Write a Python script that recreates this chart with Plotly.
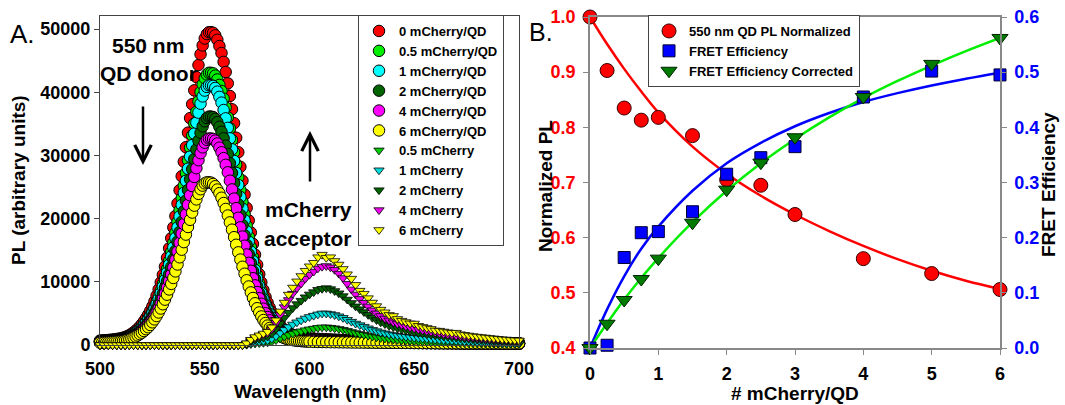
import plotly.graph_objects as go

# ---------------- Panel A data ----------------
WL_QD = list(range(500, 601)) + list(range(602, 701, 2))
WL_MC = list(range(500, 701, 2))

QD_0 = [700, 720, 740, 760, 790, 820, 860, 900, 950, 1000,
        1060, 1150, 1250, 1400, 1550, 1750, 2000, 2250, 2550, 2900,
        3300, 3750, 4250, 4800, 5400, 6100, 6900, 7800, 8800, 9900,
        11100, 12400, 13800, 15300, 16900, 18600, 20400, 22400, 24500, 26700,
        29000, 31300, 33600, 35900, 38100, 40300, 42400, 44300, 46000, 47400,
        48500, 49200, 49500, 49500, 49400, 49000, 48300, 47300, 46200, 44800,
        43200, 41400, 39400, 37300, 35100, 32800, 30500, 28200, 26000, 23800,
        21700, 19700, 17800, 16000, 14300, 12700, 11200, 9900, 8700, 7600,
        6700, 5900, 5200, 4600, 4000, 3500, 3100, 2700, 2400, 2100,
        1900, 1750, 1600, 1500, 1400, 1300, 1250, 1200, 1150, 1100,
        1050,
        1020, 990, 960, 930, 900, 870, 840, 810, 780, 750,
        720, 700, 680, 660, 640, 620, 600, 580, 560, 545,
        530, 515, 500, 485, 470, 455, 440, 430, 420, 410,
        400, 390, 380, 370, 360, 350, 340, 335, 330, 325,
        320, 315, 310, 305, 300, 295, 290, 285, 280, 275]

QD_05 = [610, 630, 640, 660, 690, 710, 750, 780, 830, 870,
         920, 1000, 1090, 1220, 1350, 1520, 1740, 1960, 2220, 2520,
         2870, 3260, 3700, 4180, 4700, 5310, 6000, 6790, 7660, 8610,
         9660, 10790, 12010, 13310, 14700, 16180, 17750, 19490, 21320, 23230,
         25230, 27230, 29230, 31230, 33150, 35060, 36890, 38540, 40020, 41240,
         42200, 42800, 43070, 43070, 42980, 42630, 42020, 41150, 40190, 38980,
         37580, 36020, 34280, 32450, 30540, 28540, 26540, 24530, 22620, 20710,
         18880, 17140, 15490, 13920, 12440, 11050, 9740, 8610, 7570, 6610,
         5830, 5130, 4520, 4000, 3480, 3050, 2700, 2350, 2090, 1830,
         1650, 1520, 1390, 1310, 1220, 1130, 1090, 1040, 1000, 960,
         910,
         890, 860, 840, 810, 780, 760, 730, 700, 680, 650,
         630, 610, 590, 570, 560, 540, 520, 500, 490, 470,
         460, 450, 435, 420, 410, 400, 380, 370, 365, 355,
         350, 340, 330, 320, 315, 305, 295, 290, 285, 285,
         280, 275, 270, 265, 260, 255, 250, 250, 245, 240]

QD_1 = [580, 600, 610, 630, 660, 680, 710, 750, 790, 830,
        880, 950, 1040, 1160, 1290, 1450, 1660, 1870, 2120, 2410,
        2740, 3110, 3530, 3980, 4480, 5060, 5730, 6470, 7300, 8220,
        9210, 10290, 11450, 12700, 14030, 15440, 16930, 18590, 20340, 22160,
        24070, 25980, 27890, 29800, 31620, 33450, 35190, 36770, 38180, 39340,
        40260, 40840, 41090, 41090, 41000, 40670, 40090, 39260, 38350, 37180,
        35860, 34360, 32700, 30960, 29130, 27220, 25320, 23410, 21580, 19750,
        18010, 16350, 14770, 13280, 11870, 10540, 9300, 8220, 7220, 6310,
        5560, 4900, 4320, 3820, 3320, 2910, 2570, 2240, 1990, 1740,
        1580, 1450, 1330, 1250, 1160, 1080, 1040, 1000, 950, 910,
        870,
        850, 820, 800, 770, 750, 720, 700, 670, 650, 620,
        600, 580, 560, 550, 530, 510, 500, 480, 460, 450,
        440, 430, 415, 400, 390, 380, 365, 355, 350, 340,
        330, 325, 315, 305, 300, 290, 280, 280, 275, 270,
        265, 260, 255, 255, 250, 245, 240, 235, 230, 230]

QD_2 = [510, 530, 540, 550, 580, 600, 630, 660, 690, 730,
        770, 840, 910, 1020, 1130, 1280, 1460, 1640, 1860, 2120,
        2410, 2740, 3100, 3500, 3940, 4450, 5040, 5690, 6420, 7230,
        8100, 9050, 10070, 11170, 12340, 13580, 14890, 16350, 17890, 19490,
        21170, 22850, 24530, 26210, 27810, 29420, 30950, 32340, 33580, 34600,
        35410, 35920, 36140, 36140, 36060, 35770, 35260, 34530, 33730, 32700,
        31540, 30220, 28760, 27230, 25620, 23940, 22270, 20590, 18980, 17370,
        15840, 14380, 12990, 11680, 10440, 9270, 8180, 7230, 6350, 5550,
        4890, 4310, 3800, 3360, 2920, 2560, 2260, 1970, 1750, 1530,
        1390, 1280, 1170, 1100, 1020, 950, 910, 880, 840, 800,
        770,
        740, 720, 700, 680, 660, 640, 610, 590, 570, 550,
        530, 510, 500, 480, 470, 450, 440, 420, 410, 400,
        390, 380, 365, 355, 345, 330, 320, 315, 305, 300,
        290, 285, 275, 270, 265, 255, 250, 245, 240, 235,
        235, 230, 225, 225, 220, 215, 210, 210, 205, 200]

QD_4 = [460, 480, 490, 500, 520, 540, 570, 590, 630, 660,
        700, 760, 830, 920, 1020, 1160, 1320, 1490, 1680, 1910,
        2180, 2480, 2810, 3170, 3560, 4030, 4550, 5150, 5810, 6530,
        7330, 8180, 9110, 10100, 11150, 12280, 13460, 14780, 16170, 17620,
        19140, 20660, 22180, 23690, 25150, 26600, 27980, 29240, 30360, 31280,
        32010, 32470, 32670, 32670, 32600, 32340, 31880, 31220, 30490, 29570,
        28510, 27320, 26000, 24620, 23170, 21650, 20130, 18610, 17160, 15710,
        14320, 13000, 11750, 10560, 9440, 8380, 7390, 6530, 5740, 5020,
        4420, 3890, 3430, 3040, 2640, 2310, 2050, 1780, 1580, 1390,
        1250, 1160, 1060, 990, 920, 860, 830, 790, 760, 730,
        690,
        670, 650, 630, 610, 590, 570, 550, 530, 510, 500,
        480, 460, 450, 440, 420, 410, 400, 380, 370, 360,
        350, 340, 330, 320, 310, 300, 290, 285, 280, 270,
        265, 260, 250, 245, 240, 230, 225, 220, 215, 215,
        210, 210, 205, 200, 200, 195, 190, 190, 185, 180]

QD_6 = [375, 385, 400, 410, 430, 450, 470, 490, 520, 550,
        600, 650, 730, 810, 910, 1040, 1170, 1330, 1510, 1720,
        1950, 2210, 2500, 2810, 3170, 3590, 4060, 4580, 5150, 5770,
        6450, 7180, 7960, 8790, 9670, 10610, 11650, 12740, 13880, 15080,
        16280, 17470, 18670, 19810, 20960, 22050, 23040, 23920, 24650, 25220,
        25580, 25740, 25740, 25690, 25480, 25120, 24600, 24020, 23300, 22460,
        21530, 20490, 19400, 18250, 17060, 15860, 14660, 13520, 12380, 11280,
        10240, 9260, 8320, 7440, 6600, 5820, 5150, 4520, 3950, 3480,
        3070, 2700, 2390, 2080, 1820, 1610, 1400, 1250, 1090, 990,
        910, 830, 780, 730, 680, 650, 620, 600, 570, 550,
        530,
        490, 480, 470, 460, 450, 440, 430, 420, 410, 400,
        395, 390, 385, 380, 375, 370, 365, 360, 355, 350,
        345, 340, 335, 330, 325, 320, 315, 310, 305, 300,
        298, 296, 294, 292, 290, 288, 286, 284, 282, 280,
        278, 276, 274, 272, 270, 268, 266, 264, 262, 260]

MC_05 = [0, 0, 0, 0, 0, 0, 0, 0, 0, 0, 0, 0, 0, 0, 0, 0, 0,
         0, 0, 0, 0, 0, 0, 0, 0, 0, 0, 0, 0, 0, 0, 0, 0, 0,
         0, 60, 170, 250, 310, 360, 420, 560, 780, 1060,
         1340, 1600, 1820, 2020, 2180, 2350, 2490, 2600, 2720, 2800,
         2800, 2740, 2660, 2550, 2410, 2240, 2070, 1900, 1760, 1620,
         1480, 1340, 1230, 1120, 1040, 950, 880, 830, 770, 730,
         690, 640, 610, 570, 540, 510, 480, 450, 430, 410,
         380, 360, 340, 320, 300, 280, 270, 250, 240, 220,
         210, 200, 190, 180, 170, 160, 150]

MC_1 = [0, 0, 0, 0, 0, 0, 0, 0, 0, 0, 0, 0, 0, 0, 0, 0, 0,
        0, 0, 0, 0, 0, 0, 0, 0, 0, 0, 0, 0, 0, 0, 0, 0, 0,
        0, 100, 300, 450, 550, 650, 750, 1000, 1400, 1900,
        2400, 2850, 3250, 3600, 3900, 4200, 4450, 4650, 4850, 5000,
        5000, 4900, 4750, 4550, 4300, 4000, 3700, 3400, 3150, 2900,
        2650, 2400, 2200, 2000, 1850, 1700, 1580, 1480, 1380, 1300,
        1230, 1150, 1090, 1030, 970, 910, 860, 810, 770, 730,
        690, 650, 610, 580, 540, 510, 480, 450, 430, 400,
        380, 350, 330, 310, 290, 280, 260]

MC_2 = [0, 0, 0, 0, 0, 0, 0, 0, 0, 0, 0, 0, 0, 0, 0, 0, 0,
        0, 0, 0, 0, 0, 0, 0, 0, 0, 0, 0, 0, 0, 0, 0, 0, 0,
        0, 180, 540, 810, 990, 1170, 1350, 1800, 2520, 3420,
        4320, 5130, 5850, 6480, 7020, 7560, 8010, 8370, 8730, 8900,
        9000, 8850, 8550, 8190, 7740, 7200, 6660, 6120, 5670, 5220,
        4770, 4320, 3960, 3600, 3330, 3060, 2840, 2660, 2480, 2340,
        2210, 2070, 1950, 1850, 1740, 1640, 1550, 1460, 1380, 1310,
        1240, 1170, 1100, 1040, 970, 910, 860, 810, 770, 720,
        680, 630, 590, 560, 520, 500, 470]

MC_4 = [0, 0, 0, 0, 0, 0, 0, 0, 0, 0, 0, 0, 0, 0, 0, 0, 0,
        0, 0, 0, 0, 0, 0, 0, 0, 0, 0, 0, 0, 0, 0, 0, 0, 0,
        0, 250, 750, 1130, 1380, 1630, 1880, 2500, 3500, 4750,
        6000, 7130, 8130, 9000, 9750, 10500, 11130, 11630, 12130, 12400,
        12500, 12300, 11900, 11300, 10600, 9700, 8800, 8000, 7300, 6700,
        6100, 5500, 5000, 4600, 4200, 3900, 3600, 3350, 3150, 2950,
        2780, 2620, 2470, 2330, 2200, 2080, 1960, 1850, 1750, 1650,
        1560, 1470, 1390, 1310, 1240, 1170, 1100, 1040, 980, 920,
        870, 820, 780, 740, 700, 660, 630]

MC_6 = [0, 0, 0, 0, 0, 0, 0, 0, 0, 0, 0, 0, 0, 0, 0, 0, 0,
        0, 0, 0, 0, 0, 0, 0, 0, 0, 0, 0, 0, 0, 0, 0, 0, 0,
        0, 280, 840, 1260, 1540, 1820, 2100, 2800, 3920, 5320,
        6720, 7980, 9100, 10080, 10920, 11760, 12460, 13020, 13900, 14300,
        13800, 13900, 13300, 12740, 12040, 11200, 10500, 9520, 8600, 8120,
        7420, 6720, 6160, 5600, 5180, 4760, 4600, 4130, 3850, 3640,
        3430, 3400, 3040, 2870, 2700, 2550, 2300, 2270, 2140, 2030,
        1920, 1950, 1710, 1610, 1510, 1410, 1330, 1260, 1190, 1120,
        1050, 980, 920, 870, 810, 770, 730]

QD_NAMES = ["0 mCherry/QD", "0.5 mCherry/QD", "1 mCherry/QD",
            "2 mCherry/QD", "4 mCherry/QD", "6 mCherry/QD"]
MC_NAMES = ["0.5 mCherry", "1 mCherry", "2 mCherry", "4 mCherry", "6 mCherry"]
A_XTICKS = [500, 550, 600, 650, 700]
A_YTICKS = [0, 10000, 20000, 30000, 40000, 50000]
A_YTICKTEXT = ["0", "10000", "20000", "30000", "40000", "50000"]

# ---------------- Panel B data ----------------
N_RATIO = [0, 0.25, 0.5, 0.75, 1, 1.5, 2, 2.5, 3, 4, 5, 6]
PL_NORM = [1.0, 0.903, 0.835, 0.813, 0.818, 0.785, 0.705, 0.695, 0.642, 0.562, 0.535, 0.506]
FRET_E = [0.0, 0.005, 0.164, 0.209, 0.211, 0.247, 0.315, 0.345, 0.365, 0.455, 0.502, 0.495]
FRET_CORR = [0.0, 0.044, 0.087, 0.125, 0.162, 0.227, 0.287, 0.336, 0.382, 0.455, 0.515, 0.562]

N_FIT = [0, 0.25, 0.5, 0.75, 1, 1.5, 2, 2.5, 3, 3.5, 4, 4.5, 5, 5.5, 6]
PL_FIT = [1.0, 0.951, 0.906, 0.865, 0.827, 0.765, 0.716, 0.676, 0.642, 0.612, 0.585, 0.561, 0.540, 0.522, 0.507]
FRET_FIT = [0.0, 0.07, 0.13, 0.18, 0.22, 0.285, 0.335, 0.372, 0.402, 0.426, 0.446, 0.462, 0.476, 0.488, 0.499]
CORR_FIT = [0.0, 0.045, 0.088, 0.127, 0.163, 0.228, 0.285, 0.335, 0.379, 0.418, 0.453, 0.484, 0.512, 0.538, 0.562]

# ---------------- Styles ----------------
W, H = 1065, 405
FONT = "Arial, 'Liberation Sans', sans-serif"
QD_COLORS = ["#FF0000", "#00EE00", "#00FFFF", "#006400", "#FF00FF", "#FFFF00"]
MC_COLORS = ["#00CC00", "#00DDDD", "#006400", "#EE00EE", "#FFFF00"]


def px(x):
    return x / W


def py(y):
    return 1 - y / H


fig = go.Figure()

qd_series = [QD_0, QD_05, QD_1, QD_2, QD_4, QD_6]
for name, vals, col in zip(QD_NAMES, qd_series, QD_COLORS):
    fig.add_trace(go.Scatter(x=WL_QD, y=vals, mode="lines", xaxis="x", yaxis="y",
                             line=dict(color=col, width=1.3), showlegend=False,
                             hoverinfo="skip", cliponaxis=False))
    fig.add_trace(go.Scatter(x=WL_QD, y=vals, mode="markers", name=name, xaxis="x", yaxis="y",
                             marker=dict(symbol="circle", size=11.5, color=col,
                                         line=dict(color="black", width=1)),
                             legend="legend", cliponaxis=False))

mc_series = [MC_05, MC_1, MC_2, MC_4, MC_6]
for name, vals, col in zip(MC_NAMES, mc_series, MC_COLORS):
    fig.add_trace(go.Scatter(x=WL_MC, y=vals, mode="markers", name=name, xaxis="x", yaxis="y",
                             marker=dict(symbol="triangle-down", size=9, color=col,
                                         line=dict(color="black", width=0.8)),
                             legend="legend", cliponaxis=False))

# Panel B fits
fig.add_trace(go.Scatter(x=N_FIT, y=PL_FIT, mode="lines", xaxis="x2", yaxis="y2",
                         line=dict(color="#FF0000", width=2.5, shape="spline"), showlegend=False))
fig.add_trace(go.Scatter(x=N_FIT, y=FRET_FIT, mode="lines", xaxis="x2", yaxis="y3",
                         line=dict(color="#0000FF", width=2.5, shape="spline"), showlegend=False))
fig.add_trace(go.Scatter(x=N_FIT, y=CORR_FIT, mode="lines", xaxis="x2", yaxis="y3",
                         line=dict(color="#00EE00", width=2.5, shape="spline"), showlegend=False))
# Panel B points
fig.add_trace(go.Scatter(x=N_RATIO, y=PL_NORM, mode="markers", name="550 nm QD PL Normalized",
                         xaxis="x2", yaxis="y2", legend="legend2", cliponaxis=False,
                         marker=dict(symbol="circle", size=14, color="#FF0000",
                                     line=dict(color="#330000", width=1))))
fig.add_trace(go.Scatter(x=N_RATIO, y=FRET_E, mode="markers", name="FRET Efficiency",
                         xaxis="x2", yaxis="y3", legend="legend2", cliponaxis=False,
                         marker=dict(symbol="square", size=12, color="#0000FF",
                                     line=dict(color="#000033", width=1))))
fig.add_trace(go.Scatter(x=N_RATIO, y=FRET_CORR, mode="markers", name="FRET Efficiency Corrected",
                         xaxis="x2", yaxis="y3", legend="legend2", cliponaxis=False,
                         marker=dict(symbol="triangle-down", size=14, color="#007A00",
                                     line=dict(color="#002200", width=1))))

tickfont = dict(family=FONT, size=18, color="black", weight="bold")

fig.update_layout(
    width=W, height=H, margin=dict(l=0, r=0, t=0, b=0, pad=0, autoexpand=False),
    paper_bgcolor="white", plot_bgcolor="white",
    font=dict(family=FONT, color="black"),
    xaxis=dict(domain=[px(100), px(519)], range=[500, 700], anchor="y", automargin=False,
               showline=True, linecolor="#444", linewidth=1, mirror=True,
               ticks="", tickvals=A_XTICKS, tickfont=tickfont, ticklabelstandoff=7,
               showgrid=False, zeroline=False),
    yaxis=dict(domain=[py(345), py(16)], range=[0, 52060], anchor="x", automargin=False,
               showline=True, linecolor="#444", linewidth=1, mirror=True,
               ticks="outside", ticklen=5, tickcolor="#444",
               tickvals=A_YTICKS, ticktext=A_YTICKTEXT,
               tickfont=tickfont, showgrid=False, zeroline=False),
    xaxis2=dict(domain=[px(590), px(1000)], range=[0, 6], anchor="y2", automargin=False,
                showline=True, linecolor="#888", linewidth=1.5, mirror=True,
                ticks="outside", ticklen=5, tickcolor="#888", dtick=1,
                tickfont=tickfont, ticklabelstandoff=4, showgrid=False, zeroline=False),
    yaxis2=dict(domain=[py(348), py(17)], range=[0.4, 1.0], anchor="x2", automargin=False,
                showline=True, linecolor="#888", linewidth=1.5,
                ticks="outside", ticklen=5, tickcolor="#888", dtick=0.1, tickformat=".1f",
                tickfont=dict(family=FONT, size=18, color="#FF0000", weight="bold"),
                ticklabelstandoff=4, showgrid=False, zeroline=False),
    yaxis3=dict(range=[0, 0.6], overlaying="y2", side="right", anchor="x2", automargin=False,
                showline=True, linecolor="#888", linewidth=1.5,
                ticks="outside", ticklen=5, tickcolor="#888", dtick=0.1, tickformat=".1f",
                tickfont=dict(family=FONT, size=18, color="#0000FF", weight="bold"),
                ticklabelstandoff=4, showgrid=False, zeroline=False),
    legend=dict(x=px(358), y=py(15), xanchor="left", yanchor="top",
                bgcolor="white", bordercolor="#444", borderwidth=1,
                font=dict(family=FONT, size=13, color="black", weight="bold"),
                itemsizing="trace", tracegroupgap=0),
    legend2=dict(x=px(648), y=py(15), xanchor="left", yanchor="top",
                 bgcolor="white", bordercolor="#444", borderwidth=1,
                 font=dict(family=FONT, size=13, color="black", weight="bold"),
                 itemsizing="trace"),
)

ann = []


def txt(x, y, s, size=19, bold=True, angle=0, xanchor="center"):
    ann.append(dict(x=px(x), y=py(y), xref="paper", yref="paper", text=s, showarrow=False,
                    textangle=angle, xanchor=xanchor, yanchor="middle",
                    font=dict(family=FONT, size=size, color="black",
                              weight="bold" if bold else "normal")))


txt(18, 180, "PL (arbitrary units)", angle=-90)
txt(310, 391, "Wavelength (nm)")
txt(545, 186, "Normalized PL", angle=-90)
txt(1048, 185, "FRET Efficiency", angle=-90)
txt(795, 393, "# mCherry/QD")
txt(8, 34, "A.", size=26, bold=False, xanchor="left")
txt(527, 32, "B.", size=25, bold=False, xanchor="left")
txt(148, 45, "550 nm", size=21)
txt(148, 73, "QD donor", size=21)
txt(308, 209, "mCherry", size=21)
txt(308, 238, "acceptor", size=21)

# arrows
ann.append(dict(x=px(143), y=py(165), xref="paper", yref="paper", ax=0, ay=-60,
                axref="pixel", ayref="pixel", text="", showarrow=True,
                arrowhead=5, arrowsize=1.3, arrowwidth=2.5, arrowcolor="black"))
ann.append(dict(x=px(310), y=py(131), xref="paper", yref="paper", ax=0, ay=52,
                axref="pixel", ayref="pixel", text="", showarrow=True,
                arrowhead=5, arrowsize=1.3, arrowwidth=2.5, arrowcolor="black"))

fig.update_layout(annotations=ann)
fig.write_html("out.html", config={"displayModeBar": False},
               post_script="document.body.style.margin='0px';document.body.style.padding='0px';")
